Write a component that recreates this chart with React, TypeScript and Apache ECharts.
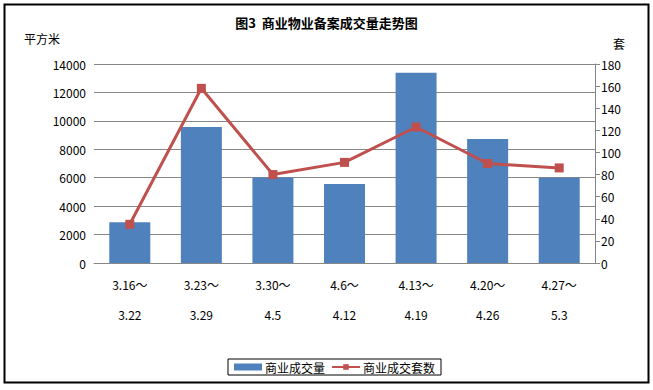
import React, { useEffect, useRef } from "react";
import * as echarts from "echarts";

const startDates = ["3.16～", "3.23～", "3.30～", "4.6～", "4.13～", "4.20～", "4.27～"];
const endDates = ["3.22", "3.29", "4.5", "4.12", "4.19", "4.26", "5.3"];
const areaValues = [2870, 9560, 6020, 5550, 13390, 8720, 6000];
const setValues = [35, 158, 80, 91, 123, 90, 86];
const leftTicks = { min: 0, max: 14000, interval: 2000 };
const rightTicks = { min: 0, max: 180, interval: 20 };
const titleText = "图3  商业物业备案成交量走势图";
const barName = "商业成交量";
const lineName = "商业成交套数";

const FONT = "'Noto Sans CJK SC', 'DejaVu Sans', sans-serif";

export default function App() {
  const ref = useRef<HTMLDivElement>(null);
  useEffect(() => {
    if (!ref.current) return;
    const chart = echarts.init(ref.current, undefined, { renderer: "svg" });
    const categories = startDates.map((s, i) => s + "\n" + endDates[i]);
    chart.setOption({
      animation: false,
      backgroundColor: "#fff",
      textStyle: { fontFamily: FONT },
      title: {
        text: titleText,
        left: "center",
        top: 11,
        textStyle: { fontSize: 13, fontWeight: "bold", color: "#000", fontFamily: FONT },
      },
      graphic: [
        {
          type: "rect",
          shape: { x: 4.5, y: 4.5, width: 644, height: 378 },
          style: { fill: "none", stroke: "#000", lineWidth: 2 },
          silent: true,
        },
        {
          type: "text",
          x: 24,
          y: 32,
          style: { text: "平方米", fontSize: 12, fill: "#000", fontFamily: FONT },
        },
        {
          type: "text",
          x: 613,
          y: 37,
          style: { text: "套", fontSize: 12, fill: "#000", fontFamily: FONT },
        },
      ],
      legend: {
        left: 228,
        top: 359,
        orient: "horizontal",
        borderColor: "#000",
        borderWidth: 1,
        padding: [2, 6, 2, 6],
        itemGap: 6,
        itemWidth: 28,
        itemHeight: 7,
        textStyle: { fontSize: 12, color: "#000", fontFamily: FONT, padding: [0, 0, 0, -2] },
        data: [{ name: barName, icon: "rect" }, { name: lineName }],
      },
      grid: { left: 94, right: 58, top: 64, bottom: 127, containLabel: false },
      xAxis: {
        type: "category",
        data: categories,
        axisLine: { show: true, lineStyle: { color: "#868686", width: 1 } },
        axisTick: { show: false },
        axisLabel: {
          color: "#000",
          fontSize: 12,
          lineHeight: 30,
          margin: 6,
          interval: 0,
          fontFamily: FONT,
        },
      },
      yAxis: [
        {
          type: "value",
          min: leftTicks.min,
          max: leftTicks.max,
          interval: leftTicks.interval,
          axisLine: { show: false },
          axisTick: { show: false },
          splitLine: { show: true, lineStyle: { color: "#868686", width: 1 } },
          axisLabel: {
            color: "#000",
            fontSize: 12,
            margin: 8,
            fontFamily: FONT,
            formatter: (v: number) => String(v),
          },
        },
        {
          type: "value",
          min: rightTicks.min,
          max: rightTicks.max,
          interval: rightTicks.interval,
          position: "right",
          axisLine: { show: true, lineStyle: { color: "#868686", width: 1 } },
          axisTick: { show: true, inside: false, length: 5, lineStyle: { color: "#868686" } },
          splitLine: { show: false },
          axisLabel: {
            color: "#000",
            fontSize: 12,
            margin: 6,
            fontFamily: FONT,
            formatter: (v: number) => String(v),
          },
        },
      ],
      series: [
        {
          name: barName,
          type: "bar",
          yAxisIndex: 0,
          data: areaValues,
          barWidth: 41,
          itemStyle: { color: "#4F81BD" },
        },
        {
          name: lineName,
          type: "line",
          yAxisIndex: 1,
          data: setValues,
          symbol: "rect",
          symbolSize: 9,
          lineStyle: { color: "#C0504D", width: 3 },
          itemStyle: { color: "#C0504D" },
        },
      ],
    });
    return () => chart.dispose();
  }, []);
  return (
    <div
      ref={ref}
      style={{ position: "fixed", left: 0, top: 0, width: 653, height: 390 }}
    />
  );
}
